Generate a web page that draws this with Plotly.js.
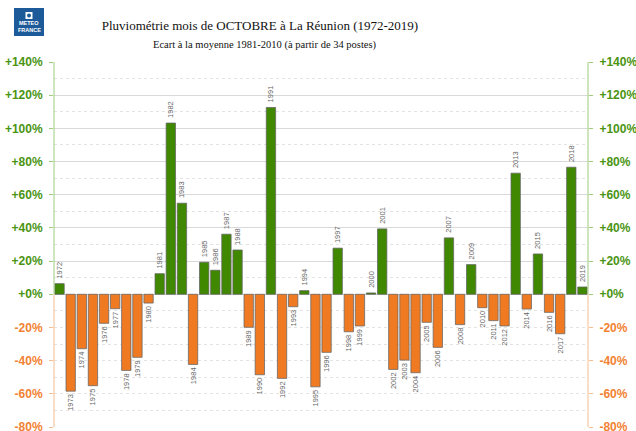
<!DOCTYPE html>
<html>
<head>
<meta charset="utf-8">
<script src="https://cdn.plot.ly/plotly-3.0.1.min.js"></script>
<style>html,body{margin:0;padding:0;background:#fff;}#chart{width:636px;height:431px;}</style>
</head>
<body>
<div id="chart"></div>
<script>
const years = [1972,1973,1974,1975,1976,1977,1978,1979,1980,1981,
  1982,1983,1984,1985,1986,1987,1988,1989,1990,1991,
  1992,1993,1994,1995,1996,1997,1998,1999,2000,2001,
  2002,2003,2004,2005,2006,2007,2008,2009,2010,2011,
  2012,2013,2014,2015,2016,2017,2018,2019];
const ecart = [6.4,-58.4,-32.8,-55.1,-17.5,-8.7,-45.9,-38.0,-5.3,12.4,
  103.2,54.9,-42.3,19.3,14.5,36.2,26.7,-19.9,-48.5,112.6,
  -50.7,-7.5,2.2,-55.8,-35.0,27.8,-22.6,-19.1,0.8,39.4,
  -45.3,-39.7,-47.3,-16.9,-32.0,34.0,-18.3,17.9,-8.1,-15.9,
  -19.1,73.0,-8.9,24.3,-10.9,-23.8,76.6,4.4];
const posTicks = [0,20,40,60,80,100,120,140];
const posLabels = ['+0%','+20%','+40%','+60%','+80%','+100%','+120%','+140%'];
const negTicks = [-80,-60,-40,-20];
const negLabels = ['-80%','-60%','-40%','-20%'];

const GREEN = '#3f8800';
const ORANGE = '#ef7a22';
const GREEN_TXT = '#4a9412';
const ORANGE_TXT = '#f28232';
const GREEN_LINE = '#9dcc7a';
const ORANGE_LINE = '#f7bd8f';

// pixel helpers for layout decorations
const L = 54, R = 588, T = 62, B = 427;
const px = x => (x - L) / (R - L);
const py = y => (B - y) / (B - T);

const bars = {
  type: 'bar',
  x: years,
  y: ecart,
  text: years.map((yr, i) => (ecart[i] >= 0 ? '\u00a0' : '') + String(yr)),
  textposition: 'outside',
  textangle: -90,
  constraintext: 'none',
  cliponaxis: false,
  textfont: {family: 'Liberation Sans, Arial, sans-serif', size: 7.5, color: '#666'},
  marker: {
    color: ecart.map(v => v >= 0 ? GREEN : ORANGE),
    line: {color: 'rgba(100,100,100,0.75)', width: 1}
  },
  hoverinfo: 'x+y'
};
// invisible companions so the extra axes (right side / negative labels) are drawn
const ghost = ax => ({type: 'scatter', x: years, y: ecart, yaxis: ax, mode: 'none', hoverinfo: 'skip', showlegend: false});

const tickFont = c => ({family: 'Liberation Sans, Arial, sans-serif', size: 12, color: c, weight: 'bold'});
const yRange = [-80, 140];
const sideAxis = (side, vals, labels, col, lineCol) => ({
  overlaying: 'y', side: side, range: yRange, tickmode: 'array',
  tickvals: vals, ticktext: labels, tickfont: tickFont(col),
  ticks: 'outside', ticklen: 4, tickcolor: lineCol, ticklabeloverflow: 'allow',
  showgrid: false, zeroline: false, showline: false, ticklabelstandoff: 4, fixedrange: true
});

const layout = {
  width: 636, height: 431,
  margin: {l: L, r: 636 - R, t: T, b: 431 - B},
  paper_bgcolor: '#fff', plot_bgcolor: '#fff',
  showlegend: false,
  bargap: 0.16,
  title: {
    text: 'Pluviométrie mois de OCTOBRE à La Réunion (1972-2019)',
    font: {family: 'Liberation Serif, Times New Roman, serif', size: 13, color: '#111'},
    x: 260 / 636, xanchor: 'center', xref: 'container',
    y: 1 - 25 / 431, yanchor: 'middle', yref: 'container'
  },
  xaxis: {
    range: [1971.5, 2019.5], showticklabels: false, showgrid: false,
    zeroline: false, showline: false, ticks: '', fixedrange: true
  },
  yaxis: {
    range: yRange, tickmode: 'array', tickvals: posTicks, ticktext: posLabels,
    tickfont: tickFont(GREEN_TXT), ticks: 'outside', ticklen: 4, tickcolor: GREEN_LINE,
    showgrid: true, gridcolor: '#d9d9d9', gridwidth: 1,
    minor: {tickmode: 'linear', tick0: 0, dtick: 10, showgrid: true, gridcolor: '#e3e3e3', griddash: 'dot', ticks: ''},
    zeroline: true, zerolinecolor: '#d0d0d0', zerolinewidth: 1,
    showline: false, fixedrange: true, ticklabelstandoff: 4
  },
  yaxis3: sideAxis('left', negTicks, negLabels, ORANGE_TXT, ORANGE_LINE),
  yaxis2: sideAxis('right', posTicks, posLabels, GREEN_TXT, GREEN_LINE),
  yaxis4: sideAxis('right', negTicks, negLabels, ORANGE_TXT, ORANGE_LINE),
  shapes: [
    {type: 'line', xref: 'paper', yref: 'y', x0: 0, x1: 0, y0: 0, y1: 140, line: {color: GREEN_LINE, width: 1}},
    {type: 'line', xref: 'paper', yref: 'y', x0: 0, x1: 0, y0: -80, y1: 0, line: {color: ORANGE_LINE, width: 1}},
    {type: 'line', xref: 'paper', yref: 'y', x0: 1, x1: 1, y0: 0, y1: 140, line: {color: GREEN_LINE, width: 1}},
    {type: 'line', xref: 'paper', yref: 'y', x0: 1, x1: 1, y0: -80, y1: 0, line: {color: ORANGE_LINE, width: 1}},
    // logo
    {type: 'rect', xref: 'paper', yref: 'paper', x0: px(14), x1: px(44), y0: py(36), y1: py(8),
     fillcolor: '#1d5a99', line: {width: 0}, layer: 'above'},
    {type: 'rect', xref: 'paper', yref: 'paper', x0: px(25.5), x1: px(32.5), y0: py(19), y1: py(12),
     fillcolor: '#fff', line: {width: 0}, layer: 'above'},
    {type: 'circle', xref: 'paper', yref: 'paper', x0: px(27), x1: px(31), y0: py(17.5), y1: py(13.5),
     fillcolor: '#1d5a99', line: {width: 0}, layer: 'above'}
  ],
  annotations: [
    {text: 'Ecart à la moyenne 1981-2010 (à partir de 34 postes)', xref: 'paper', yref: 'paper',
     x: px(265), y: py(45), xanchor: 'center', yanchor: 'middle', showarrow: false,
     font: {family: 'Liberation Serif, Times New Roman, serif', size: 10.5, color: '#111'}},
    {text: '<b>METEO</b>', xref: 'paper', yref: 'paper', x: px(29), y: py(23.5), xanchor: 'center', yanchor: 'middle',
     showarrow: false, font: {family: 'Liberation Sans, Arial, sans-serif', size: 5.5, color: '#fff'}},
    {text: '<b>FRANCE</b>', xref: 'paper', yref: 'paper', x: px(29), y: py(29.5), xanchor: 'center', yanchor: 'middle',
     showarrow: false, font: {family: 'Liberation Sans, Arial, sans-serif', size: 5.5, color: '#fff'}}
  ]
};

Plotly.newPlot('chart', [bars, ghost('y2'), ghost('y3'), ghost('y4')], layout, {displayModeBar: false, staticPlot: true});
</script>
</body>
</html>
